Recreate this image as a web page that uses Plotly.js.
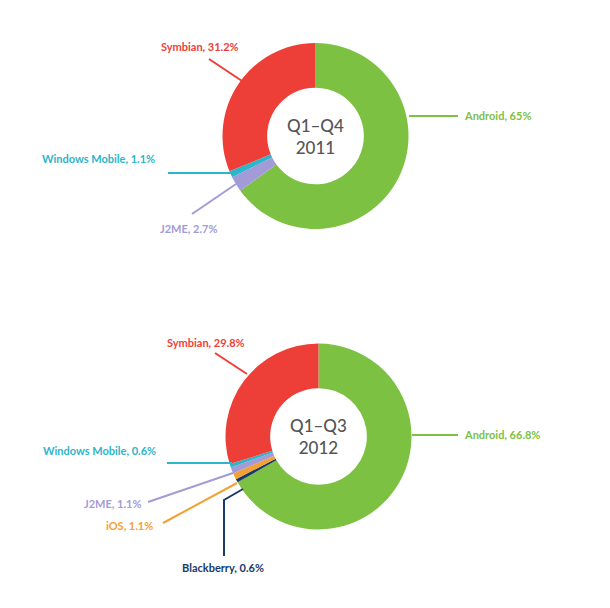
<!DOCTYPE html>
<html><head><meta charset="utf-8">
<script src="https://cdn.plot.ly/plotly-3.0.1.min.js"></script>
<style>html,body{margin:0;padding:0;background:#fff}</style>
</head><body><div id="chart" style="width:610px;height:608px"></div>
<script>
// Data
const labels2011 = ["Android", "J2ME", "Windows Mobile", "Symbian"];
const values2011 = [65, 2.7, 1.1, 31.2];
const labels2012 = ["Android", "Blackberry", "iOS", "J2ME", "Windows Mobile", "Symbian"];
const values2012 = [66.8, 0.6, 1.1, 1.1, 0.6, 29.8];
const periods = ["Q1–Q4<br>2011", "Q1–Q3<br>2012"];

const colorMap = {
  "Android": "#7dc142", "Symbian": "#ee3e38", "Windows Mobile": "#2db5c9",
  "J2ME": "#a29bd8", "iOS": "#f5a033", "Blackberry": "#173a6b"
};

const W = 610, H = 608;
const px = (x, y) => [x / W, 1 - y / H];

function pieTrace(labels, values, cx, cy, r) {
  const a = px(cx - r, cy + r), b = px(cx + r, cy - r);
  return {
    type: "pie", labels: labels, values: values, sort: false, direction: "clockwise",
    rotation: 0, hole: 0.52, textinfo: "none", hoverinfo: "label+value",
    marker: { colors: labels.map(l => colorMap[l]), line: { width: 0 } },
    domain: { x: [a[0], b[0]], y: [a[1], b[1]] }, showlegend: false
  };
}

const traces = [
  pieTrace(labels2011, values2011, 315.5, 136, 93),
  pieTrace(labels2012, values2012, 318.5, 436.5, 93)
];

// Label placement (layout only): [label, pieIndex, textX, textY, anchor, line points in px]
const placements = [
  ["Symbian", 0, 241, 47, "right", [[209, 59], [242, 81]]],
  ["Windows Mobile", 0, 157, 158, "right", [[168, 173], [234, 173]]],
  ["J2ME", 0, 219, 228, "right", [[192, 214], [236, 184]]],
  ["Android", 0, 462, 115, "left", [[409, 116], [458, 116]]],
  ["Symbian", 1, 247, 342, "right", [[215, 353], [247, 374]]],
  ["Windows Mobile", 1, 158, 450, "right", [[167, 463], [232, 463]]],
  ["J2ME", 1, 143, 503, "right", [[148, 502], [233, 473]]],
  ["iOS", 1, 155, 525, "right", [[163, 523], [237, 483]]],
  ["Blackberry", 1, 180, 567, "left", [[224, 556], [224, 500], [243, 489]]],
  ["Android", 1, 462, 434, "left", [[412, 435], [458, 435]]]
];

const allLabels = [labels2011, labels2012];
const allValues = [values2011, values2012];
const fontFam = "Lato, 'Open Sans', sans-serif";

const annotations = [];
const shapes = [];
placements.forEach(p => {
  const [lab, pi, tx, ty, anchor, pts] = p;
  const v = allValues[pi][allLabels[pi].indexOf(lab)];
  const pos = px(tx, ty);
  annotations.push({
    xref: "paper", yref: "paper", x: pos[0], y: pos[1], xanchor: anchor, yanchor: "middle",
    text: lab + ", " + v + "%", showarrow: false,
    font: { family: fontFam, size: 11, color: colorMap[lab], weight: 700 }
  });
  let path = "";
  pts.forEach((q, i) => { const c = px(q[0], q[1]); path += (i ? " L " : "M ") + c[0] + " " + c[1]; });
  shapes.push({ type: "path", xref: "paper", yref: "paper", path: path,
    line: { color: colorMap[lab], width: 2 } });
});

const centers = [[315.5, 136], [318.5, 436.5]];
periods.forEach((t, i) => {
  const c = px(centers[i][0], centers[i][1]);
  annotations.push({
    xref: "paper", yref: "paper", x: c[0], y: c[1], xanchor: "center", yanchor: "middle",
    text: t, showarrow: false,
    font: { family: fontFam, size: 17, color: "#555555", weight: 500 }
  });
});

const layout = {
  width: W, height: H, margin: { l: 0, r: 0, t: 0, b: 0 },
  paper_bgcolor: "#ffffff", plot_bgcolor: "#ffffff",
  annotations: annotations, shapes: shapes
};

Plotly.newPlot("chart", traces, layout, { displayModeBar: false, staticPlot: true });
</script>
</body></html>
